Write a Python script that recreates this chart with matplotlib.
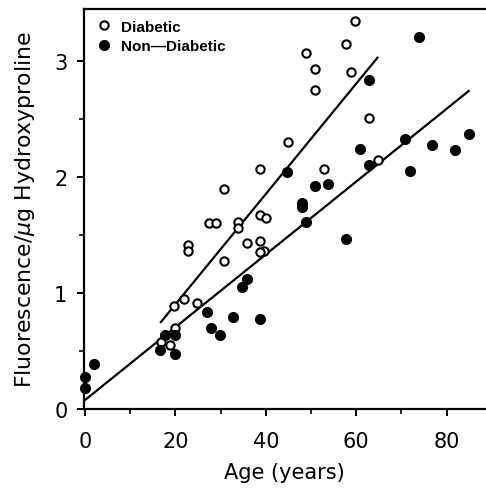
import numpy as np
import matplotlib
matplotlib.use("Agg")
from matplotlib import pyplot as plt
from matplotlib.ticker import MultipleLocator

# diabetic (open circles)
diab_age = [59.7, 57.7, 48.8, 50.8, 58.8, 50.8, 62.8, 44.9, 38.7, 52.8, 64.8,
            30.7, 38.7, 40.0, 27.5, 29.0, 33.9, 33.9, 22.7, 22.7, 35.9, 38.7,
            39.6, 38.7, 30.8, 19.7, 22.0, 24.7, 19.9, 16.8, 18.8]
diab_fl = [3.35, 3.15, 3.07, 2.93, 2.91, 2.75, 2.51, 2.30, 2.07, 2.07, 2.15,
           1.90, 1.67, 1.65, 1.60, 1.60, 1.61, 1.56, 1.41, 1.36, 1.43, 1.45,
           1.36, 1.35, 1.28, 0.89, 0.95, 0.915, 0.70, 0.58, 0.55]

# non-diabetic (filled circles)
nond_age = [74.0, 62.8, 60.8, 70.7, 76.8, 81.9, 84.9, 71.8, 62.8, 44.8, 50.8,
            53.8, 47.9, 47.9, 49.0, 57.8, 35.9, 34.8, 26.9, 32.8, 38.7, 27.8,
            29.8, 17.7, 19.9, 16.6, 19.9, 0.0, 0.0, 2.0]
nond_fl = [3.21, 2.84, 2.24, 2.33, 2.28, 2.23, 2.37, 2.05, 2.10, 2.04, 1.92,
           1.94, 1.78, 1.74, 1.61, 1.47, 1.12, 1.05, 0.84, 0.79, 0.78, 0.70,
           0.64, 0.64, 0.64, 0.51, 0.47, 0.28, 0.18, 0.39]

# regression lines: slope, intercept, age range
diab_fit = (0.0476, -0.05, 16.8, 64.7)
nond_fit = (0.0314, 0.077, 0.0, 84.9)

plt.rcParams['font.family'] = ['DejaVu Sans']
plt.rcParams['mathtext.fontset'] = 'dejavusans'

fig = plt.figure(figsize=(4.86, 4.89), dpi=100)
ax = fig.add_axes([0.173, 0.1616, 0.825, 0.818])

for fit in (diab_fit, nond_fit):
    xs = np.array([fit[2], fit[3]])
    ax.plot(xs, fit[0] * xs + fit[1], color='black', lw=1.6)

ax.plot(diab_age, diab_fl, 'o', ms=6, mfc='white', mec='black', mew=1.5,
        ls='none', label='Diabetic', clip_on=False, zorder=3)
ax.plot(nond_age, nond_fl, 'o', ms=7, mfc='black', mec='black',
        ls='none', label='Non\u2014Diabetic', clip_on=False, zorder=3)

ax.set_xlim(-0.2, 88.5)
ax.set_ylim(0, 3.45)
ax.xaxis.set_major_locator(MultipleLocator(20))
ax.xaxis.set_minor_locator(MultipleLocator(10))
ax.yaxis.set_major_locator(MultipleLocator(1))
ax.yaxis.set_minor_locator(MultipleLocator(0.5))
ax.tick_params(which='major', length=5, width=1.4, labelsize=15)
ax.tick_params(which='minor', length=3.5, width=1.2)
ax.tick_params(axis='x', which='major', pad=11)
ax.tick_params(axis='y', which='major', pad=7)
ax.spines['right'].set_visible(False)
for s in ('left', 'bottom', 'top'):
    ax.spines[s].set_linewidth(1.6)

ax.set_xlabel('Age (years)', fontsize=15, labelpad=8)
ax.set_ylabel('Fluorescence/$\\mu$g Hydroxyproline', fontsize=15.8, labelpad=12)

ax.legend(loc='upper left', frameon=False,
          prop={'family': 'Liberation Sans', 'size': 11, 'weight': 'bold'},
          handletextpad=0.5, borderaxespad=0.3, labelspacing=0.35,
          handlelength=1.2)

plt.savefig('out.png', dpi=100)
